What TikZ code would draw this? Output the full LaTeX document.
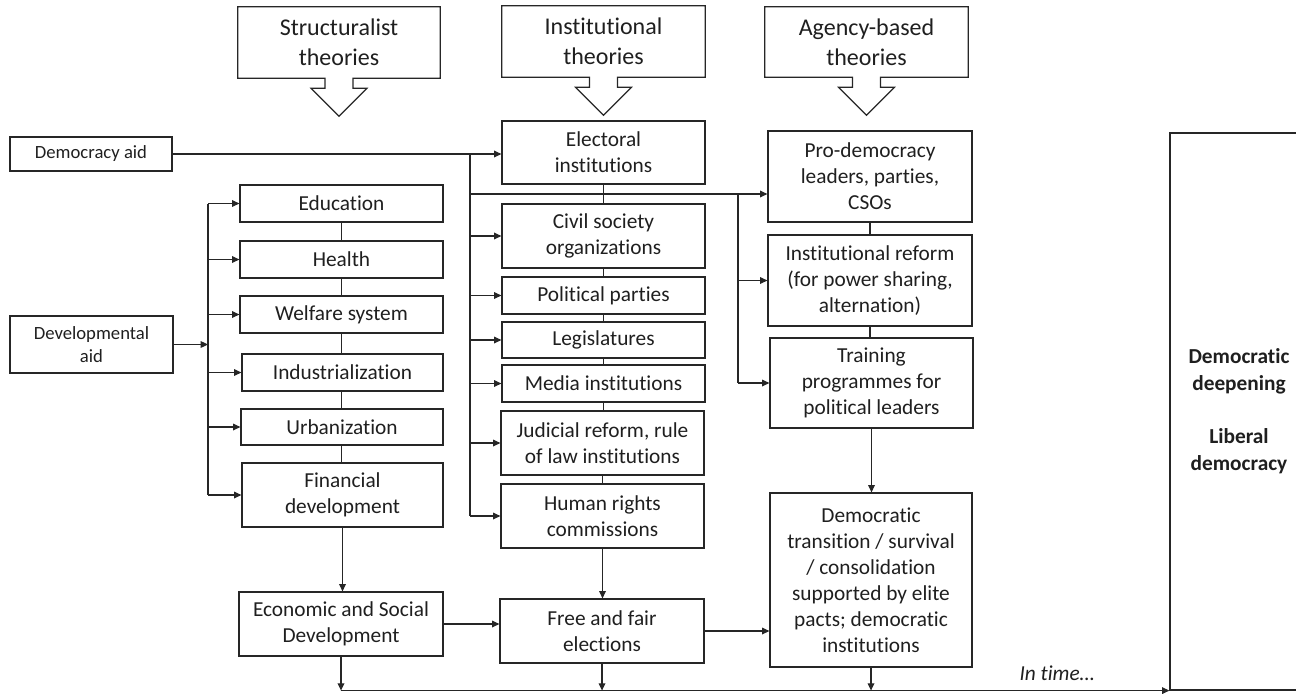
\documentclass[tikz,border=0pt]{standalone}
\usepackage{fontspec}
\setmainfont{Carlito}[Ligatures=NoCommon]
\usetikzlibrary{arrows.meta,calc}
\begin{document}
\begin{tikzpicture}[x=0.75pt,y=-0.75pt,
  line/.style={draw=black!85,line width=0.9pt},
  arr/.style={line,-{Triangle[length=5.5pt,width=5pt]}},
  bx/.style 2 args={line,align=center,inner sep=0pt,text=black!88,
    font=\fontsize{16pt}{19.5pt}\selectfont,
    minimum width=#1*0.75pt,minimum height=#2*0.75pt},
  smallbx/.style 2 args={bx={#1}{#2},font=\fontsize{14pt}{17pt}\selectfont},
  hd/.style 2 args={align=center,inner sep=0pt,text=black!88,
    font=\fontsize{18pt}{22.5pt}\selectfont,
    minimum width=#1*0.75pt,minimum height=#2*0.75pt},
  bigbx/.style 2 args={bx={#1}{#2},font=\fontsize{16pt}{20pt}\selectfont\bfseries}]
\useasboundingbox (0,0) rectangle (1296,693);
\clip (0,0) rectangle (1296,693);

% headers
\node[hd={202}{71}] (hs) at (339,42.5) {Structuralist\\theories};
\node[hd={203}{71}] (hi) at (603.5,41.5) {Institutional\\theories};
\node[hd={203}{70}] (ha) at (866.5,42) {Agency-based\\theories};
\foreach \h in {hs,hi,ha}
  \draw[line,line join=miter] (\h.south west) -- (\h.north west) -- (\h.north east) -- (\h.south east)
    -- ($(\h.south)+(14,0)$) -- ++(0,10) -- ++(14,0) -- ($(\h.south)+(0,38)$)
    -- ($(\h.south)+(-28,10)$) -- ++(14,0) -- ($(\h.south)+(-14,0)$) -- cycle;

% left inputs
\node[smallbx={162}{34}] (da) at (91,154) {Democracy aid};
\node[smallbx={163}{57}] (dev) at (91.5,344.5) {Developmental\\aid};

% structuralist column
\node[bx={203}{37}] (edu) at (341.5,203.5) {Education};
\node[bx={203}{37}] (hea) at (341.5,259.5) {Health};
\node[bx={203}{37}] (wel) at (341.5,314.5) {Welfare system};
\node[bx={201}{37}] (ind) at (342.5,372.5) {Industrialization};
\node[bx={202}{36}] (urb) at (342,427) {Urbanization};
\node[bx={201}{64}] (fin) at (342.5,495) {Financial\\development};
\node[bx={204}{64}] (eco) at (341,624) {Economic and Social\\Development};

% institutional column
\node[bx={203}{63}] (ele) at (603.5,152.5) {Electoral\\institutions};
\node[bx={203}{64}] (civ) at (603.5,236) {Civil society\\organizations};
\node[bx={203}{37}] (pol) at (603.5,295.5) {Political parties};
\node[bx={203}{36}] (leg) at (603.5,340) {Legislatures};
\node[bx={203}{37}] (med) at (603.5,383.5) {Media institutions};
\node[bx={203}{64}] (jud) at (602.5,443) {Judicial reform, rule\\of law institutions};
\node[bx={203}{64}] (hum) at (602.5,516) {Human rights\\commissions};
\node[bx={204}{64}] (fre) at (602,631) {Free and fair\\elections};

% agency column
\node[bx={204}{91}] (pro) at (870,176.5) {Pro-democracy\\leaders, parties,\\CSOs};
\node[bx={204}{91}] (inr) at (870,280.5) {Institutional reform\\(for power sharing,\\alternation)};
\node[bx={203}{90}] (tra) at (871.5,383) {Training\\programmes for\\political leaders};
\node[bx={202}{174}] (dem) at (871,580) {Democratic\\transition / survival\\/ consolidation\\supported by elite\\pacts; democratic\\institutions};

% outcome
\node[bigbx={138}{557}] (out) at (1239,411.5) {Democratic\\deepening\\\mbox{}\\Liberal\\democracy};

\node[font=\fontsize{16pt}{19.5pt}\selectfont\itshape,text=black!88,inner sep=0pt] (time) at (1057,673) {In time…};

% democracy aid connections
\coordinate (t1) at (470,154);
\coordinate (j1) at (470,194);
\coordinate (t2) at (738,194);
\draw[arr] (da.east) -- (da.east -| ele.west);
\draw[line] (t1) -- (t1 |- hum.west);
\foreach \b in {civ,pol,leg,med,jud,hum}
  \draw[arr] (t1 |- \b.west) -- (\b.west);
\draw[arr] (j1) -- (j1 -| pro.west);
\draw[line] (t2) -- (t2 |- tra.west);
\draw[arr] (t2 |- inr.west) -- (inr.west);
\draw[arr] (t2 |- tra.west) -- (tra.west);

% developmental aid connections
\coordinate (t3) at (208,344.5);
\draw[arr] (dev.east) -- (t3);
\draw[line] (t3 |- edu.west) -- (t3 |- fin.west);
\foreach \b in {edu,hea,wel,ind,urb,fin}
  \draw[arr] (t3 |- \b.west) -- (\b.west);

% vertical links
\draw[line] (edu.south) -- (hea.north);
\draw[line] (hea.south) -- (wel.north);
\draw[line] (wel.south) -- (wel.south |- ind.north);
\draw[line] (wel.south |- ind.south) -- (wel.south |- urb.north);
\draw[line] (wel.south |- urb.south) -- (wel.south |- fin.north);
\draw[line] (ele.south) -- (civ.north);
\draw[line] (civ.south) -- (civ.south |- pol.north);
\draw[line] (pol.south) -- (pol.south |- leg.north);
\draw[line] (leg.south) -- (leg.south |- med.north);
\draw[line] (med.south) -- (med.south |- jud.north);
\draw[line] (jud.south) -- (hum.north);
\draw[line] (pro.south) -- (pro.south |- inr.north);
\draw[line] (inr.south) -- (inr.south |- tra.north);

% flows
\draw[arr] (fin.south) -- (fin.south |- eco.north);
\draw[arr] (hum.south) -- (hum.south |- fre.north);
\draw[arr] (tra.south) -- (tra.south |- dem.north);
\draw[arr] (eco.east) -- (eco.east -| fre.west);
\draw[arr] (fre.east) -- (fre.east -| dem.west);

% bottom time line
\draw[arr] (eco.south) -- (eco.south |- out.south);
\draw[arr] (fre.south) -- (fre.south |- out.south);
\draw[arr] (dem.south) -- (dem.south |- out.south);
\draw[arr] (eco.south |- out.south) -- (out.south west);
\end{tikzpicture}
\end{document}
